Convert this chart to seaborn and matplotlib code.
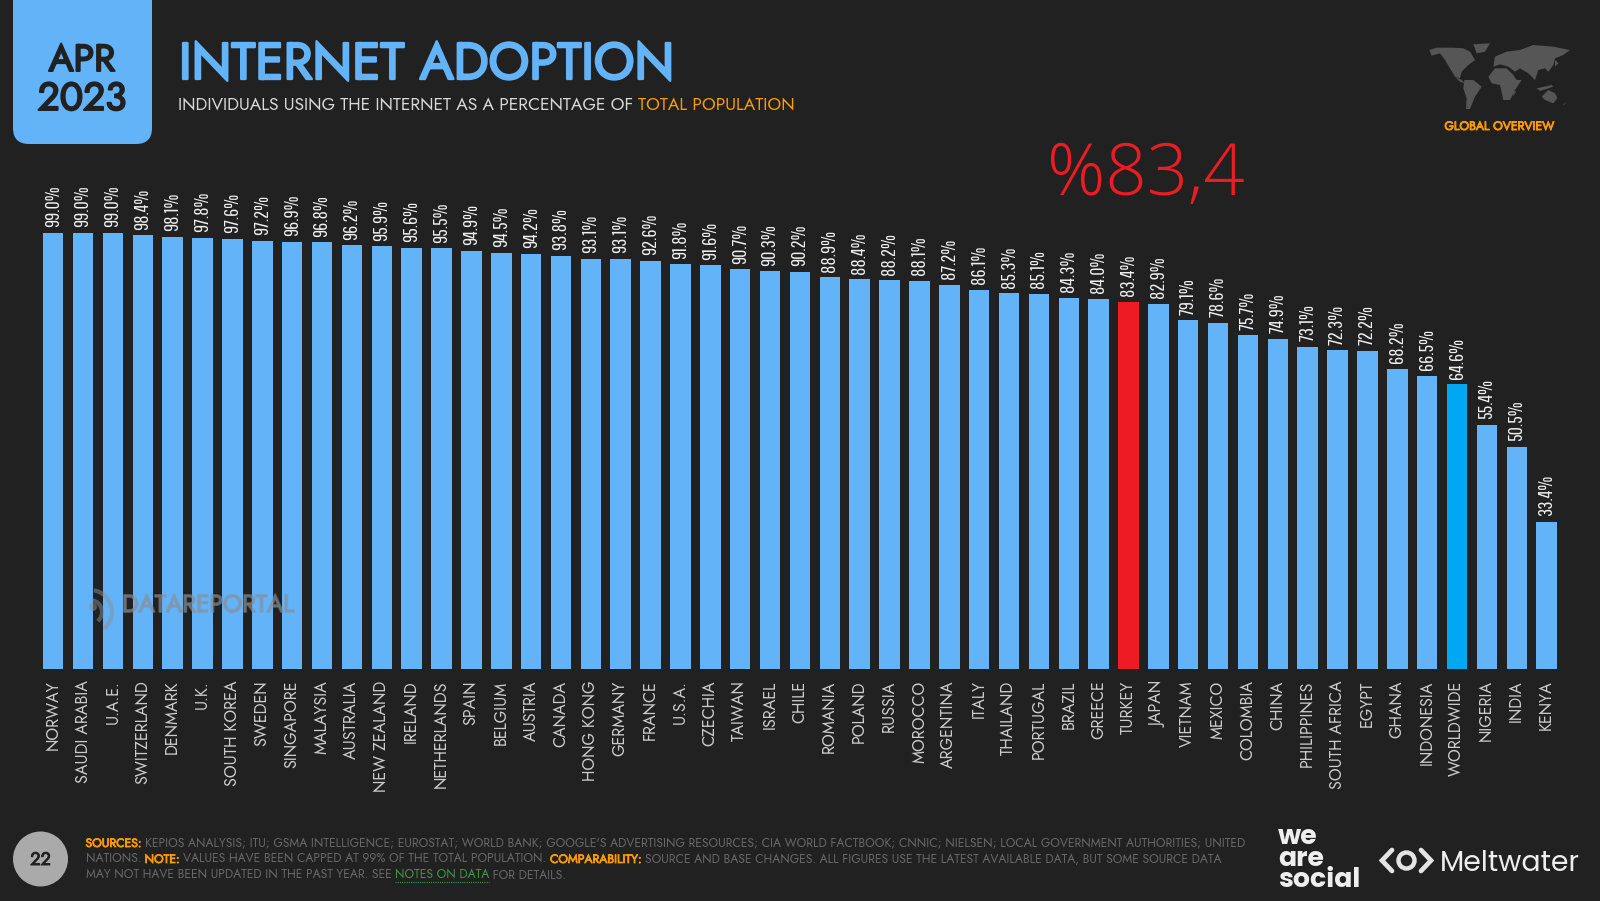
import matplotlib
matplotlib.use('Agg')
import matplotlib.pyplot as plt
import matplotlib.patches as mpatches
import matplotlib.patheffects as pe
import pandas as pd
import seaborn as sns

# chart values
countries = ['NORWAY', 'SAUDI ARABIA', 'U.A.E.', 'SWITZERLAND', 'DENMARK', 'U.K.', 'SOUTH KOREA', 'SWEDEN',
             'SINGAPORE', 'MALAYSIA', 'AUSTRALIA', 'NEW ZEALAND', 'IRELAND', 'NETHERLANDS', 'SPAIN', 'BELGIUM',
             'AUSTRIA', 'CANADA', 'HONG KONG', 'GERMANY', 'FRANCE', 'U.S.A.', 'CZECHIA', 'TAIWAN', 'ISRAEL',
             'CHILE', 'ROMANIA', 'POLAND', 'RUSSIA', 'MOROCCO', 'ARGENTINA', 'ITALY', 'THAILAND', 'PORTUGAL',
             'BRAZIL', 'GREECE', 'TURKEY', 'JAPAN', 'VIETNAM', 'MEXICO', 'COLOMBIA', 'CHINA', 'PHILIPPINES',
             'SOUTH AFRICA', 'EGYPT', 'GHANA', 'INDONESIA', 'WORLDWIDE', 'NIGERIA', 'INDIA', 'KENYA']
adoption = [99.0, 99.0, 99.0, 98.4, 98.1, 97.8, 97.6, 97.2, 96.9, 96.8, 96.2, 95.9, 95.6, 95.5, 94.9, 94.5,
            94.2, 93.8, 93.1, 93.1, 92.6, 91.8, 91.6, 90.7, 90.3, 90.2, 88.9, 88.4, 88.2, 88.1, 87.2, 86.1,
            85.3, 85.1, 84.3, 84.0, 83.4, 82.9, 79.1, 78.6, 75.7, 74.9, 73.1, 72.3, 72.2, 68.2, 66.5, 64.6,
            55.4, 50.5, 33.4]

BG = '#212121'
BLUE = '#62b3f8'
ORANGE = '#ff9a00'
RED = '#ed1c24'
SANS = ['Jost', 'Lato', 'DejaVu Sans']
NARROW = ['Pathway Gothic One', 'Liberation Sans Narrow', 'Liberation Sans', 'DejaVu Sans']
LOGO = ['Poppins', 'Open Sans', 'DejaVu Sans']

W, H = 1600, 901
sns.set_theme(style='dark')
plt.rcParams['font.family'] = SANS
fig = plt.figure(figsize=(16, 9.01), dpi=100, facecolor=BG)


def heavy(color, lw):
    # the geometric font only comes in one weight here, so thicken it with a stroke
    return [pe.withStroke(linewidth=lw, foreground=color)]


# full-figure layer in pixel coordinates for the slide furniture
bg = fig.add_axes([0, 0, 1, 1], zorder=0)
bg.set_xlim(0, W)
bg.set_ylim(H, 0)
bg.axis('off')

# bar chart
left, right, bottom = 38.3, 1561.6, 669.3
top = bottom - 441
ax = fig.add_axes([left / W, 1 - bottom / H, (right - left) / W, (bottom - top) / H], zorder=1)
ax.patch.set_alpha(0)
df = pd.DataFrame({'country': countries, 'adoption': adoption})
colors = [RED if c == 'TURKEY' else '#00a8f4' if c == 'WORLDWIDE' else BLUE for c in countries]
sns.barplot(data=df, x='country', y='adoption', hue='country', palette=colors, legend=False,
            width=0.686, saturation=1, linewidth=0, ax=ax)
ax.set_xlim(-0.5, len(countries) - 0.5)
ax.set_ylim(0, 100)
ax.set_xlabel('')
ax.set_ylabel('')
ax.set_yticks([])
ax.tick_params(axis='x', length=0, pad=8, labelrotation=90, labelsize=11.6, labelcolor='#cccccc')
ax.grid(False)
sns.despine(ax=ax, left=True, bottom=True)
for i, v in enumerate(adoption):
    ax.annotate(f'{v:.1f}%', (i, v), xytext=(0, 4), textcoords='offset points', rotation=90,
                ha='center', va='bottom', color='#f0f0f0', fontsize=14.5, family=NARROW)

# faint watermark over the bars
over = fig.add_axes([0, 0, 1, 1], zorder=2)
over.set_xlim(0, W)
over.set_ylim(H, 0)
over.axis('off')
MARK = '#8a8f96'
over.text(122, 612, 'DATAREPORTAL', ha='left', va='baseline', color=MARK, alpha=0.5, fontsize=17.6,
          path_effects=[pe.Stroke(linewidth=1.3, foreground=MARK, alpha=0.5)])
for d in (24, 44):
    over.add_patch(mpatches.Arc((90, 612), d, d, theta1=-80, theta2=50, ec=MARK, lw=3, alpha=0.5))
over.add_patch(mpatches.Ellipse((93, 607), 8, 8, fc=MARK, ec='none', alpha=0.5))

# date box, flat on top and rounded below
bg.add_patch(mpatches.FancyBboxPatch((13, -30), 139, 174, boxstyle='round,pad=0,rounding_size=16',
                                     fc=BLUE, ec='none'))
bg.text(82, 71, 'APR', ha='center', va='baseline', color=BG, fontsize=27, path_effects=heavy(BG, 1.4))
bg.text(82, 110, '2023', ha='center', va='baseline', color=BG, fontsize=28, path_effects=heavy(BG, 1.4))

# titles
bg.text(179, 79, 'INTERNET ADOPTION', ha='left', va='baseline', color=BLUE, fontsize=37, path_effects=heavy(BLUE, 1.7))


def text_runs(x, y, runs, size):
    # place coloured pieces of one line after each other
    renderer = fig.canvas.get_renderer()
    for s, color, bold in runs:
        t = bg.text(x, y, s, ha='left', va='baseline', color=color, fontsize=size,
                    path_effects=heavy(color, 0.55) if bold else None)
        x = bg.transData.inverted().transform(t.get_window_extent(renderer))[1][0]
    return x


text_runs(178, 110, [('INDIVIDUALS USING THE INTERNET AS A PERCENTAGE OF ', '#d8d8d8', False),
                     ('TOTAL POPULATION', ORANGE, False)], 12.55)

# highlight value
bg.text(1146, 175.5, '%83,4', ha='center', va='center', color=RED, fontsize=52, family=['Open Sans', 'DejaVu Sans'],
        fontweight='light')

# small world map sketch, outlines in px of a 3x crop starting at (1420, 35)
map_shapes = [
    [(28, 45), (50, 38), (100, 38), (130, 40), (150, 50), (165, 75), (145, 90), (125, 110), (120, 130), (105, 125),
     (90, 100), (75, 75), (60, 55), (35, 62)],
    [(160, 28), (210, 25), (195, 50), (170, 55)],
    [(105, 125), (125, 135), (135, 145), (120, 140)],
    [(133, 135), (160, 135), (185, 155), (165, 185), (150, 222), (138, 222), (140, 190), (130, 160)],
    [(205, 125), (225, 100), (260, 100), (280, 120), (290, 135), (305, 135), (285, 165), (270, 195), (250, 195),
     (240, 150), (215, 145)],
    [(220, 95), (225, 65), (260, 50), (300, 45), (340, 30), (400, 35), (450, 45), (430, 60), (405, 70), (400, 90),
     (385, 110), (375, 100), (355, 105), (345, 135), (325, 115), (300, 100), (285, 110), (265, 95), (240, 88)],
    [(365, 185), (385, 165), (405, 175), (412, 190), (400, 205), (375, 195)],
    [(350, 160), (395, 150), (400, 155), (360, 168)],
    [(405, 75), (415, 85), (405, 95)],
    [(280, 170), (288, 168), (280, 185)],
    [(430, 208), (440, 200), (430, 212)],
]
for shape in map_shapes:
    pts = [(1420 + sx / 3, 35 + sy / 3) for sx, sy in shape]
    bg.add_patch(mpatches.Polygon(pts, closed=True, fc='#565656', ec='none'))
bg.text(1499.5, 130, 'GLOBAL OVERVIEW', ha='center', va='baseline', color=ORANGE, fontsize=8.8,
        path_effects=heavy(ORANGE, 0.6))

# footer
bg.add_patch(mpatches.Ellipse((40.5, 859), 55, 55, fc='#aaaaaa', ec='none'))
bg.text(40.5, 865, '22', ha='center', va='baseline', color=BG, fontsize=13, path_effects=heavy(BG, 0.7))
GREY = '#686868'
FOOT = 8.75
text_runs(85.5, 847, [('SOURCES: ', ORANGE, True),
                      ("KEPIOS ANALYSIS; ITU; GSMA INTELLIGENCE; EUROSTAT; WORLD BANK; GOOGLE'S ADVERTISING RESOURCES; "
                       'CIA WORLD FACTBOOK; CNNIC; NIELSEN; LOCAL GOVERNMENT AUTHORITIES; UNITED', GREY, False)], FOOT)
text_runs(85.5, 863, [('NATIONS. ', GREY, False), ('NOTE: ', ORANGE, True),
                      ('VALUES HAVE BEEN CAPPED AT 99% OF THE TOTAL POPULATION. ', GREY, False),
                      ('COMPARABILITY: ', ORANGE, True),
                      ('SOURCE AND BASE CHANGES. ALL FIGURES USE THE LATEST AVAILABLE DATA, BUT SOME SOURCE DATA', GREY, False)], FOOT)
end = text_runs(85.5, 879, [('MAY NOT HAVE BEEN UPDATED IN THE PAST YEAR. SEE ', GREY, False)], FOOT)
end2 = text_runs(end, 879, [('NOTES ON DATA', '#3c9a46', False)], FOOT)
bg.plot([end, end2], [882, 882], color='#3c9a46', lw=0.8, ls=(0, (1, 1)))
text_runs(end2, 879, [(' FOR DETAILS.', GREY, False)], FOOT)

# logos
bg.text(1278, 887, 'we\nare\nsocial', ha='left', va='baseline', color='#eeeeee', fontsize=19.3, fontweight='bold',
        family=LOGO, linespacing=0.72)
bg.plot([1392, 1382, 1392], [850, 860.5, 871], color='#e4e4e4', lw=3.4, solid_joinstyle='miter')
bg.plot([1421, 1431, 1421], [850, 860.5, 871], color='#e4e4e4', lw=3.4, solid_joinstyle='miter')
bg.add_patch(mpatches.Ellipse((1406.5, 860.5), 16, 16, fc='none', ec='#e4e4e4', lw=3.2))
bg.text(1440, 871, 'Meltwater', ha='left', va='baseline', color='#eeeeee', fontsize=20.4, family=LOGO)

fig.savefig('out.png', dpi=100, facecolor=BG)
